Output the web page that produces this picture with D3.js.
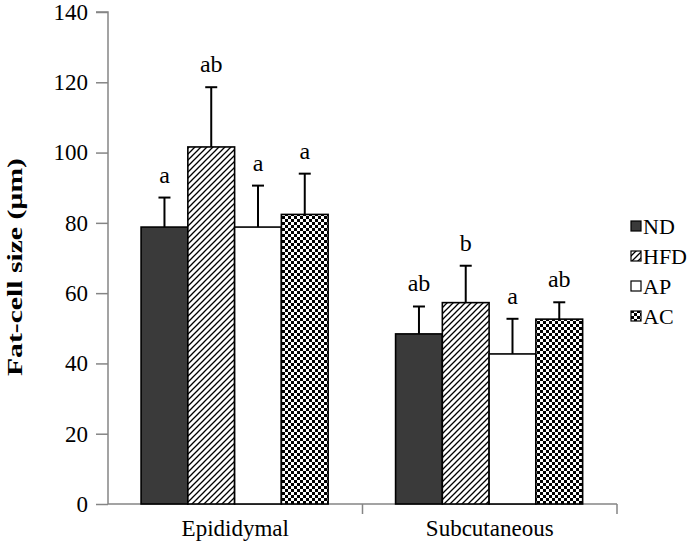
<!DOCTYPE html>
<html><head><meta charset="utf-8">
<script src="https://cdn.jsdelivr.net/npm/d3@7"></script>
<style>body{margin:0;background:#fff}svg{display:block}</style>
</head><body><svg id="c" width="693" height="543"></svg>
<script>
const categories = ["Epididymal", "Subcutaneous"];
const series = ["ND", "HFD", "AP", "AC"];
const means = {
  ND:  [78.8, 48.4],
  HFD: [101.6, 57.3],
  AP:  [78.8, 42.7],
  AC:  [82.4, 52.6]
};
const errors = {
  ND:  [8.4, 7.8],
  HFD: [17.0, 10.5],
  AP:  [11.8, 10.0],
  AC:  [11.6, 4.8]
};
const letters = {
  ND:  ["a", "ab"],
  HFD: ["ab", "b"],
  AP:  ["a", "a"],
  AC:  ["a", "ab"]
};
const yTicks = [0, 20, 40, 60, 80, 100, 120, 140];
const yTitle = "Fat-cell size (µm)";

const svg = d3.select("#c");
const font = "'Liberation Serif','Times New Roman','DejaVu Serif',serif";
const defs = svg.append("defs");
const hatch = defs.append("pattern").attr("id","hatch").attr("patternUnits","userSpaceOnUse")
  .attr("width",6).attr("height",6);
hatch.append("rect").attr("width",6).attr("height",6).attr("fill","#fff");
hatch.append("path").attr("d","M-1,1 L1,-1 M0,6 L6,0 M5,7 L7,5").attr("stroke","#000").attr("stroke-width",1.3);
const chk = defs.append("pattern").attr("id","chk").attr("patternUnits","userSpaceOnUse")
  .attr("width",6).attr("height",6);
chk.append("rect").attr("width",6).attr("height",6).attr("fill","#fff");
chk.append("rect").attr("x",0).attr("y",0).attr("width",3).attr("height",3).attr("fill","#000");
chk.append("rect").attr("x",3).attr("y",3).attr("width",3).attr("height",3).attr("fill","#000");

const fills = {ND:"#3a3a3a", HFD:"url(#hatch)", AP:"#fff", AC:"url(#chk)"};

const y = d3.scaleLinear().domain([0,140]).range([504,12]);
const x0 = d3.scaleBand().domain(categories).range([108,617]).padding(0);
const bw = x0.bandwidth();
const x1 = d3.scaleBand().domain(series).range([bw*0.13, bw*0.865]).padding(0);

// axes
const gy = svg.append("g").attr("transform","translate(108,0)")
  .call(d3.axisLeft(y).tickValues(yTicks).tickSize(12).tickPadding(8));
gy.selectAll("path,line").attr("stroke","#858585").attr("stroke-width",1.5);
gy.select(".domain").attr("d","M0,"+y(0)+"V"+y(140)+"H-12");
gy.selectAll("text").style("font-family",font).style("font-size","23px").attr("fill","#000");

const gx = svg.append("g").attr("transform","translate(0,"+y(0)+")");
gx.append("line").attr("x1",108).attr("x2",617).attr("stroke","#858585").attr("stroke-width",1.5);
const bounds = [x0(categories[0])+bw, x0(categories[1])+bw];
gx.selectAll("line.t").data(bounds).join("line").attr("class","t")
  .attr("x1",d=>d).attr("x2",d=>d).attr("y1",0).attr("y2",10)
  .attr("stroke","#858585").attr("stroke-width",1.5);
gx.selectAll("text").data(categories).join("text")
  .attr("x",d=>x0(d)+bw/2).attr("y",32).attr("text-anchor","middle")
  .style("font-family",font).style("font-size","23px").text(d=>d);

// bars
const rows = [];
categories.forEach((c,ci)=>series.forEach(s=>rows.push({c,s,v:means[s][ci],e:errors[s][ci],l:letters[s][ci]})));
const g = svg.append("g");
const cx = d=>x0(d.c)+x1(d.s)+x1.bandwidth()/2;
g.selectAll("line.eb").data(rows).join("line").attr("class","eb")
  .attr("x1",cx).attr("x2",cx)
  .attr("y1",d=>y(d.v)).attr("y2",d=>y(d.v+d.e)).attr("stroke","#000").attr("stroke-width",2);
g.selectAll("line.cap").data(rows).join("line").attr("class","cap")
  .attr("x1",d=>cx(d)-6).attr("x2",d=>cx(d)+6)
  .attr("y1",d=>y(d.v+d.e)).attr("y2",d=>y(d.v+d.e)).attr("stroke","#000").attr("stroke-width",2);
g.selectAll("rect").data(rows).join("rect")
  .attr("x",d=>x0(d.c)+x1(d.s)).attr("width",x1.bandwidth())
  .attr("y",d=>y(d.v)).attr("height",d=>y(0)-y(d.v))
  .attr("fill",d=>fills[d.s]).attr("stroke","#000").attr("stroke-width",1.6);
g.selectAll("text").data(rows).join("text")
  .attr("x",cx).attr("y",d=>y(d.v+d.e)-15)
  .attr("text-anchor","middle").style("font-family",font).style("font-size","24px").text(d=>d.l);

// y title
svg.append("text").attr("transform","translate(22,267) rotate(-90)").attr("text-anchor","middle")
  .attr("textLength",218).attr("lengthAdjust","spacingAndGlyphs")
  .style("font-family",font).style("font-size","21px").style("font-weight","bold").text(yTitle);

// legend
const lg = svg.append("g").attr("transform","translate(631,226)");
const li = lg.selectAll("g").data(series).join("g").attr("transform",(d,i)=>"translate(0,"+(i*30)+")");
li.append("rect").attr("x",0).attr("y",-5).attr("width",10).attr("height",10)
  .attr("fill",d=>fills[d]).attr("stroke","#000").attr("stroke-width",1.2);
li.append("text").attr("x",12).attr("y",7.5).style("font-family",font).style("font-size","22px").text(d=>d);
</script></body></html>
